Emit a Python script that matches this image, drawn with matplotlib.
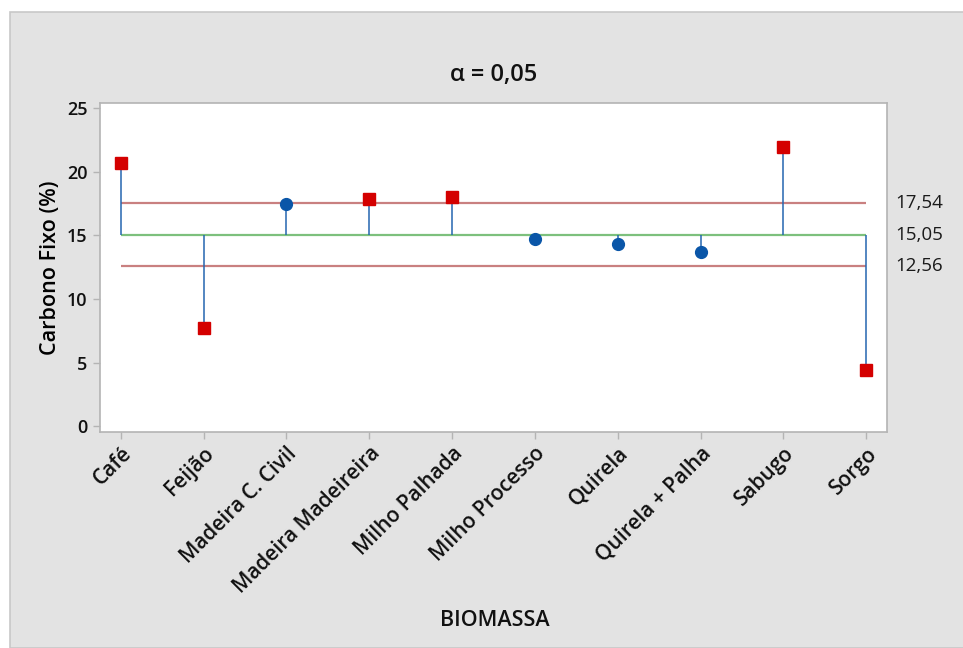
import matplotlib.pyplot as plt
from matplotlib.patches import Rectangle

plt.rcParams["font.family"] = ["Open Sans", "DejaVu Sans"]

# ANOM chart values
biomassa = [
    "Café",
    "Feijão",
    "Madeira C. Civil",
    "Madeira Madeireira",
    "Milho Palhada",
    "Milho Processo",
    "Quirela",
    "Quirela + Palha",
    "Sabugo",
    "Sorgo",
]
carbono_fixo = [20.65, 7.7, 17.45, 17.85, 18.0, 14.7, 14.3, 13.7, 21.95, 4.4]

center_line = 15.05
upper_limit = 17.54
lower_limit = 12.56
limit_labels = ["17,54", "15,05", "12,56"]
y_ticks = [0, 5, 10, 15, 20, 25]

stem_colour = "#2466b0"
out_colour = "#d40000"
in_colour = "#0a56a8"
axis_grey = "#b4b4b4"

fig = plt.figure(figsize=(9.63, 6.48), dpi=100, facecolor="white")
fig.patches.append(
    Rectangle(
        (10 / 963, 0),
        1,
        1 - 12 / 648,
        transform=fig.transFigure,
        facecolor="#e3e3e3",
        edgecolor="#c8c8c8",
        linewidth=1.2,
        zorder=-5,
    )
)
ax = fig.add_axes([100 / 963, 1 - 432 / 648, 787 / 963, 329 / 648])
ax.set_facecolor("white")

positions = list(range(len(biomassa)))
ax.hlines(upper_limit, positions[0], positions[-1], color="#c98080", lw=1.6, zorder=2)
ax.hlines(lower_limit, positions[0], positions[-1], color="#c98080", lw=1.6, zorder=2)
ax.hlines(center_line, positions[0], positions[-1], color="#7dc07d", lw=1.6, zorder=2)

for x, value in zip(positions, carbono_fixo):
    ax.vlines(x, center_line, value, color=stem_colour, lw=1.1, zorder=3)
    outside = value > upper_limit or value < lower_limit
    if outside:
        ax.plot(x, value, marker="s", ms=8.5, color=out_colour, mec=out_colour, zorder=4)
    else:
        ax.plot(x, value, marker="o", ms=8.5, color=in_colour, mec=in_colour, zorder=4)

for level, text in zip([upper_limit, center_line, lower_limit], limit_labels):
    ax.text(1.01, level, text, transform=ax.get_yaxis_transform(),
            ha="left", va="center", fontsize=13.5, color="#1a1a1a")

ax.set_xlim(-0.25, 9.25)
ax.set_ylim(-0.45, 25.4)
ax.set_yticks(y_ticks)
ax.set_yticklabels([str(t) for t in y_ticks], fontsize=13, fontweight="semibold")
ax.set_xticks(positions)
ax.set_xticklabels(biomassa, rotation=45, ha="right", rotation_mode="anchor",
                   fontsize=15, fontweight="semibold")

for spine in ax.spines.values():
    spine.set_color(axis_grey)
    spine.set_linewidth(1.2)
ax.tick_params(axis="both", color=axis_grey, length=5, width=1, labelcolor="#111111")
ax.tick_params(axis="y", pad=4)
ax.tick_params(axis="x", pad=3)

ax.set_title("α = 0,05", fontsize=17, fontweight="semibold", pad=16, color="#111111")
ax.set_ylabel("Carbono Fixo (%)", fontsize=15.5, fontweight="semibold", labelpad=4)
fig.text(495 / 963, 1 - 620 / 648, "BIOMASSA", ha="center", va="center",
         fontsize=15.5, fontweight="semibold", color="#111111")

fig.savefig("out.png", dpi=100, facecolor=fig.get_facecolor())
